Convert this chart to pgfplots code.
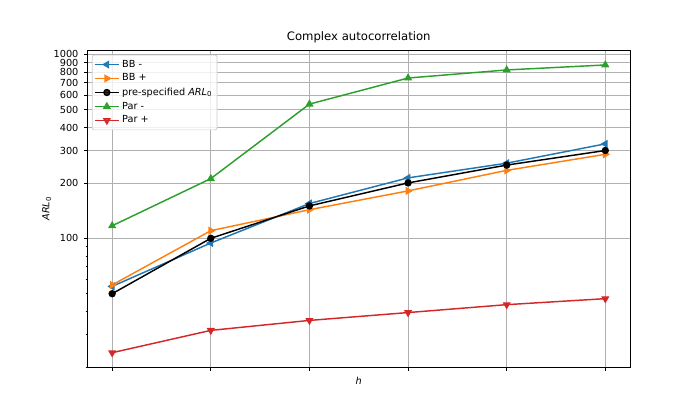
\documentclass[border=0pt]{standalone}
\usepackage{fontspec}
\setmainfont{DejaVu Sans}
\usepackage{pgfplots}
\pgfplotsset{compat=1.18}

\definecolor{tabblue}{HTML}{1F77B4}
\definecolor{taborange}{HTML}{FF7F0E}
\definecolor{tabgreen}{HTML}{2CA02C}
\definecolor{tabred}{HTML}{D62728}
\definecolor{gridgray}{HTML}{B0B0B0}

\begin{document}
\begin{tikzpicture}
% 700x420 px canvas at 0.72pt per px; axis box lower-left at (0,0)
\path[use as bounding box] (-63pt,-37.9pt) rectangle (441pt,264.5pt);
\begin{semilogyaxis}[
    scale only axis,
    width=390.6pt, height=228.5pt,
    xmin=0.75, xmax=6.25,
    ymin=19.9, ymax=1055,
    xtick={1,2,3,4,5,6},
    xticklabels={},
    ytick={100,200,300,400,500,600,700,800,900,1000},
    yticklabels={100,200,300,400,500,600,700,800,900,1000},
    minor ytick={20,30,40,50,60,70,80,90},
    tick align=outside,
    tick pos=left,
    major tick length=2.5pt,
    minor tick length=1.4pt,
    every tick/.style={black, line width=0.55pt},
    axis line style={line width=0.55pt},
    grid=major,
    major grid style={gridgray, line width=0.55pt},
    tick label style={font=\fontsize{7}{8.4}\selectfont},
    yticklabel style={xshift=-0.5pt},
    /pgf/number format/assume math mode=true,
    title={Complex autocorrelation},
    title style={font=\fontsize{8.4}{10}\selectfont, at={(axis description cs:0.5,1)}, anchor=south, yshift=-4.5pt},
    xlabel={\textit{h}},
    ylabel={\textit{ARL}\textsubscript{0}},
    xlabel style={font=\fontsize{7}{8.4}\selectfont, at={(axis description cs:0.5,0)}, anchor=center, yshift=-10pt},
    ylabel style={font=\fontsize{7}{8.4}\selectfont, at={(axis description cs:0,0.5)}, anchor=center, yshift=29.4pt},
    legend cell align=left,
    legend style={at={(axis description cs:0.008,0.985)}, anchor=north west,
        draw=black!20, line width=0.5pt, rounded corners=1.5pt, fill=white, fill opacity=0.8, text opacity=1,
        font=\fontsize{7}{8.4}\selectfont, row sep=-0.6pt, inner sep=1.5pt},
    every axis plot/.append style={line width=1.05pt},
]
\addplot[tabblue, mark=triangle*, mark size=2.4pt, mark options={rotate=90, solid}] coordinates {
    (1, 54.8) (2, 94.3) (3, 154.5) (4, 213) (5, 256) (6, 326)
};
\addlegendentry{BB -}
\addplot[taborange, mark=triangle*, mark size=2.4pt, mark options={rotate=-90, solid}] coordinates {
    (1, 55.8) (2, 110) (3, 143) (4, 181) (5, 234) (6, 286)
};
\addlegendentry{BB +}
\addplot[black, mark=*, mark size=2.1pt] coordinates {
    (1, 50) (2, 100) (3, 150) (4, 200) (5, 250) (6, 300)
};
\addlegendentry{pre-specified \textit{ARL}\textsubscript{0}}
\addplot[tabgreen, mark=triangle*, mark size=2.4pt] coordinates {
    (1, 117) (2, 211) (3, 536) (4, 743) (5, 822) (6, 875)
};
\addlegendentry{Par -}
\addplot[tabred, mark=triangle*, mark size=2.4pt, mark options={rotate=180, solid}] coordinates {
    (1, 23.9) (2, 31.6) (3, 35.8) (4, 39.5) (5, 43.6) (6, 47)
};
\addlegendentry{Par +}
\end{semilogyaxis}
\end{tikzpicture}
\end{document}
